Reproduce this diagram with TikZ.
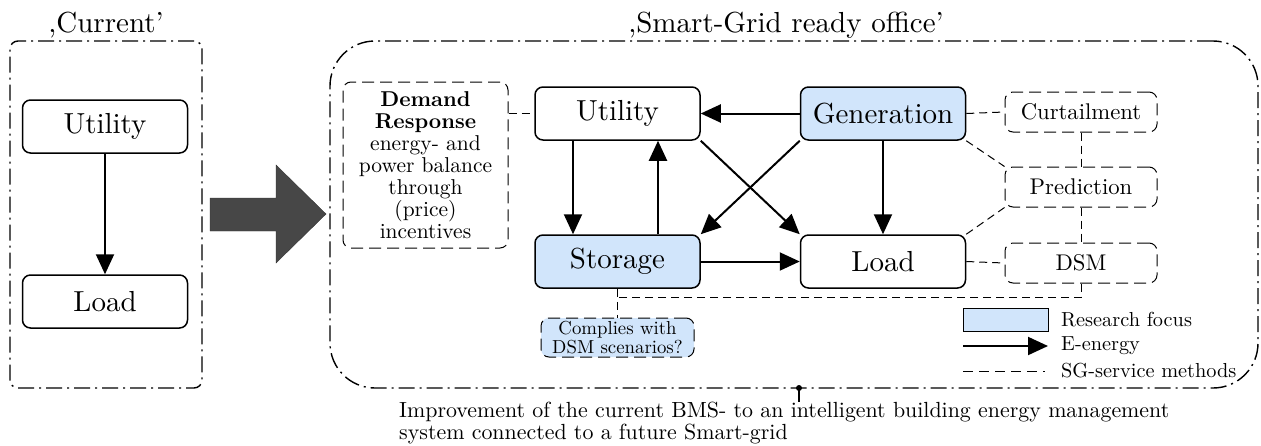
\documentclass[tikz,border=0pt]{standalone}
\usepackage{fontspec}
\setmainfont{lmroman10-regular.otf}[BoldFont=lmroman10-bold.otf]
\usetikzlibrary{arrows.meta,calc}
\definecolor{focus}{RGB}{209,229,251}
\definecolor{bigarrow}{RGB}{71,71,71}
\newcommand{\nodefont}{\fontsize{29}{34}\selectfont}
\newcommand{\midfont}{\fontsize{21.5}{22}\selectfont}
\newcommand{\boxfont}{\fontsize{22.7}{24}\selectfont}
\newcommand{\capfont}{\fontsize{21.9}{22}\selectfont}
\newcommand{\legfont}{\fontsize{20.3}{22}\selectfont}
\begin{document}
\begin{tikzpicture}[x=1pt,y=-1pt,
  frame/.style={draw, line width=1.4pt, dash pattern=on 16pt off 5pt on 2pt off 5pt},
  block/.style={draw, line width=1.5pt, rounded corners=8pt, minimum width=165pt,
                minimum height=53pt, font=\nodefont, inner sep=0pt},
  sgbox/.style={draw, line width=1pt, dash pattern=on 12pt off 6pt, rounded corners=8pt,
                minimum width=152pt, minimum height=40pt, font=\boxfont, inner sep=0pt},
  arr/.style={line width=2pt, -{Triangle[length=20pt,width=18pt]}},
  sg/.style={line width=1pt, dash pattern=on 8pt off 5pt},
  legtext/.style={anchor=west, inner sep=0pt, font=\legfont}]
\useasboundingbox (0,0) rectangle (1261,445);

% left frame: present situation
\node[frame, rounded corners=8pt, minimum width=192pt, minimum height=347pt] (cur) at (106,214.5) {};
\node[anchor=south, inner sep=2pt, font=\nodefont] (curtitle) at (cur.north) {,Current'};
\node[block] (lu) at (105,126.5) {Utility};
\node[block] (ll) at (105,301.5) {Load};
\draw[arr] (lu.south) -- (ll.north);

% transition arrow
\fill[bigarrow, draw=black!80, line width=0.4pt]
  (210,198) -- (276,198) -- (276,165) -- (326,214) -- (276,263) -- (276,231) -- (210,231) -- cycle;

% right frame: smart-grid ready office
\node[frame, rounded corners=45pt, minimum width=928pt, minimum height=347pt] (sgo) at (794,214.5) {};
\node[anchor=south, inner sep=2pt, font=\nodefont] (sgotitle) at (786,41) {,Smart-Grid ready office'};

\node[sgbox, minimum width=165pt, minimum height=166pt, align=center, font=\midfont] (dr) at (425.5,165)
  {\textbf{Demand}\\\textbf{Response}\\energy- and\\power balance\\through\\(price)\\incentives};

\node[block] (ru) at (617.5,113.5) {Utility};
\node[block, fill=focus] (gen) at (883,113.5) {Generation};
\node[block, fill=focus] (st) at (617.5,261.5) {Storage};
\node[block] (rl) at (883,261.5) {Load};

\node[sgbox] (curt) at (1081,112) {Curtailment};
\node[sgbox] (pred) at (1081,187) {Prediction};
\node[sgbox] (dsm) at (1081,263) {DSM};

\node[sgbox, fill=focus, minimum width=153pt, minimum height=39pt, align=center,
      font=\fontsize{18.8}{19}\selectfont] (comp) at (617.5,337.5) {Complies with\\DSM scenarios?};

% energy flows
\draw[arr] (gen.west) -- (ru.east);
\draw[arr] ([xshift=-44.5pt]ru.south) -- ([xshift=-44.5pt]st.north);
\draw[arr] ([xshift=40.5pt]st.north) -- ([xshift=40.5pt]ru.south);
\draw[arr] (ru.south east) -- (rl.north west);
\draw[arr] (gen.south west) -- (st.north east);
\draw[arr] (gen.south) -- (rl.north);
\draw[arr] (st.east) -- (rl.west);

% service methods
\draw[sg] (dr.east |- ru.west) -- (ru.west);
\draw[sg] (gen.east) -- (curt.west);
\draw[sg] (gen.south east) -- (pred.north west);
\draw[sg] (rl.north east) -- (pred.south west);
\draw[sg] (rl.east) -- (dsm.west);
\draw[sg] (curt.south) -- (pred.north);
\draw[sg] (pred.south) -- (dsm.north);
\draw[sg] (dsm.south) -- ++(0,14) -| (st.south);
\draw[sg] (st.south) -- (comp.north);

% legend
\node[draw, line width=1pt, fill=focus, minimum width=85pt, minimum height=23pt, inner sep=0pt] (lk1) at (1005.5,319.5) {};
\node[legtext] (lt1) at (1061,319.5) {Research focus};
\coordinate (la1) at (963,346);
\coordinate (la2) at (1048,346);
\draw[arr] (la1) -- (la2);
\node[legtext] (lt2) at (1061,346) {E-energy};
\coordinate (ls1) at (963,371);
\coordinate (ls2) at (1045,371);
\draw[line width=1pt, dash pattern=on 10pt off 6pt] (ls1) -- (ls2);
\node[legtext] (lt3) at (1061,371) {SG-service methods};

% caption pointer
\node[circle, fill, inner sep=0pt, minimum size=6pt] (dot) at (799,388) {};
\node[anchor=north west, align=left, inner sep=0pt, font=\capfont] (cap) at (399,402)
  {Improvement of the current BMS- to an intelligent building energy management\\system connected to a future Smart-grid};
\draw[line width=1.2pt] (dot.center) -- (dot.center |- cap.north);
\end{tikzpicture}
\end{document}
